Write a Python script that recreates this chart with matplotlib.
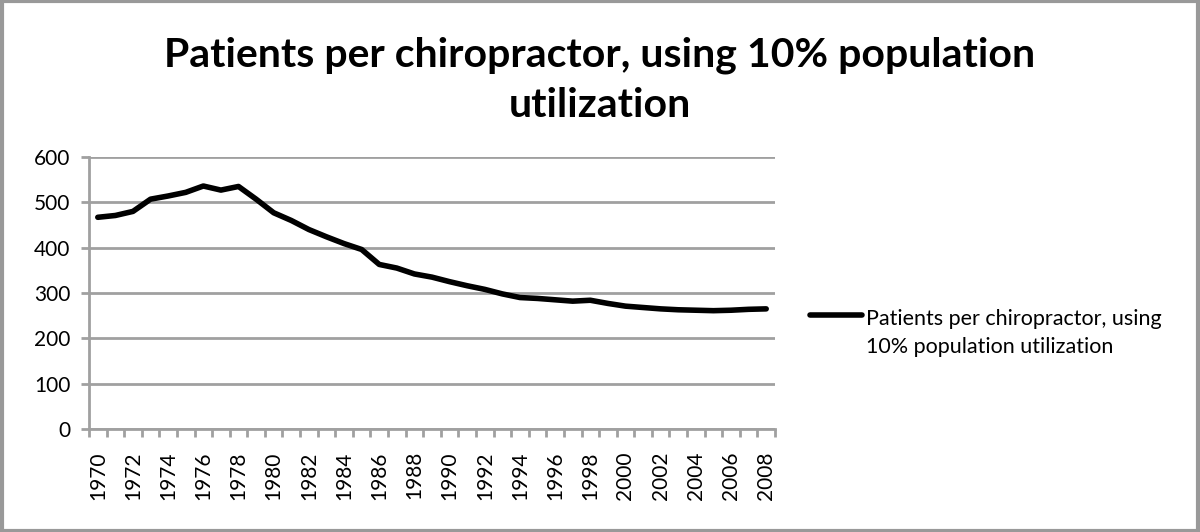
import matplotlib
matplotlib.use("Agg")
import matplotlib.pyplot as plt
from matplotlib.patches import Rectangle
from matplotlib.legend_handler import HandlerLine2D

years = list(range(1970, 2009))
patients = [467, 471, 480, 507, 514, 522, 536, 527, 535, 507,
            477, 460, 440, 424, 409, 396, 363, 355, 342, 335,
            325, 316, 308, 298, 290, 288, 285, 282, 284, 277,
            271, 268, 265, 263, 262, 261, 262, 264, 265]
yticks = [0, 100, 200, 300, 400, 500, 600]
title = "Patients per chiropractor, using 10% population\nutilization"
legend_label = "Patients per chiropractor, using\n10% population utilization"

plt.rcParams['font.family'] = ['Lato', 'DejaVu Sans']


class TopHandler(HandlerLine2D):
    def create_artists(self, legend, orig_handle, xdescent, ydescent,
                       width, height, fontsize, trans):
        arts = super().create_artists(legend, orig_handle, xdescent, ydescent,
                                      width, height, fontsize, trans)
        for a in arts:
            yd = a.get_ydata()
            a.set_ydata([v + 1.25 * height for v in yd])
        return arts


fig = plt.figure(figsize=(12, 5.32), dpi=100)
ax = fig.add_axes([89/1200, 1-429/532, (775-89)/1200, (429-157)/532])

x = list(range(len(years)))
line, = ax.plot(x, patients, color='black', lw=4.0, solid_capstyle='round',
                solid_joinstyle='round', label=legend_label)

gray = '#A0A0A0'
ax.set_xlim(-0.5, len(years) - 0.5)
ax.set_ylim(0, 600)
ax.set_yticks(yticks)
ax.set_yticklabels([str(v) for v in yticks], fontsize=15)
ax.yaxis.grid(True, color=gray, lw=2.0)
ax.set_axisbelow(True)

ax.set_xticks(x[::2])
ax.set_xticklabels([str(y) for y in years[::2]], rotation=90, fontsize=15)
ax.set_xticks([i - 0.5 for i in range(len(years) + 1)], minor=True)
ax.tick_params(axis='x', which='major', length=0, pad=16)
ax.tick_params(axis='x', which='minor', length=5.5, width=2.0, color=gray)
ax.tick_params(axis='y', length=5.5, width=2.0, color=gray, pad=8)

for s in ['top', 'right']:
    ax.spines[s].set_visible(False)
for s in ['left', 'bottom']:
    ax.spines[s].set_color(gray)
    ax.spines[s].set_linewidth(2.0)

fig.text(600/1200, 1-80/532, title, ha='center', va='center', fontsize=29.5,
         fontweight='bold', linespacing=1.42)

leg = fig.legend(handles=[line], loc='center left', bbox_to_anchor=(810/1200, 1-333/532),
                 frameon=False, fontsize=15.5, handlelength=2.4, handletextpad=0.2,
                 borderpad=0, borderaxespad=0,
                 handler_map={line: TopHandler()})
for t in leg.get_texts():
    t.set_linespacing(1.5)

fig.patches.append(Rectangle((0.0015, 0.0025), 0.997, 0.995, transform=fig.transFigure,
                             fill=False, edgecolor='#999999', lw=3))

fig.savefig('out.png', dpi=100)
